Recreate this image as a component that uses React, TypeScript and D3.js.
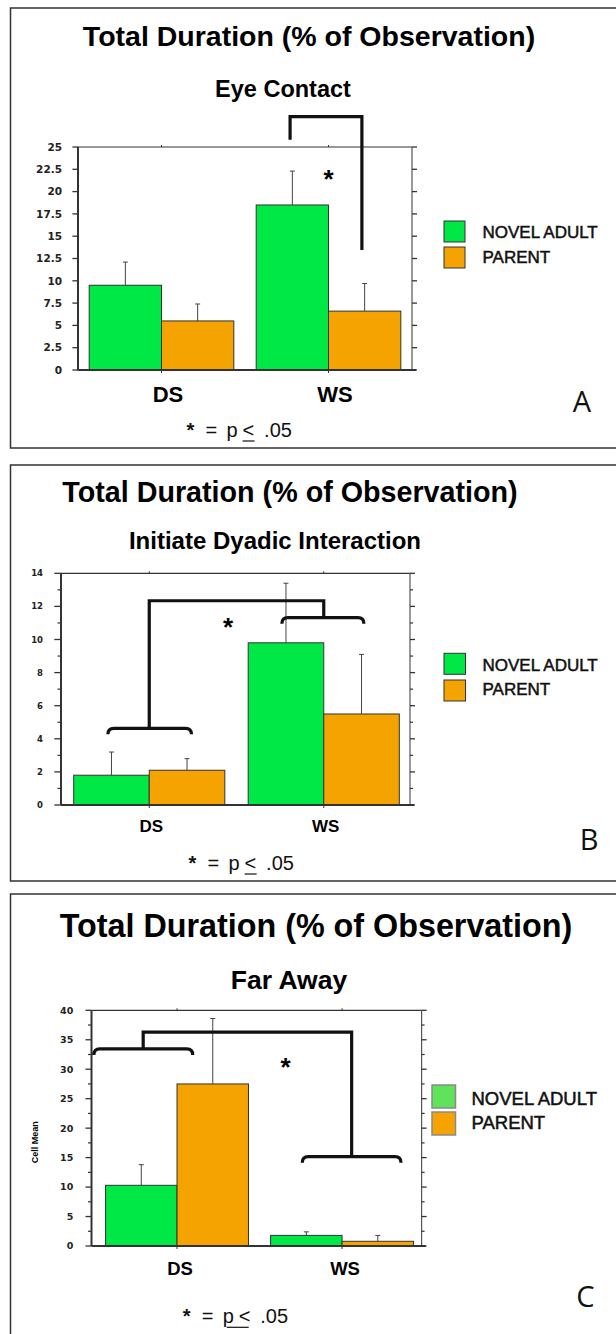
import React from "react";
import * as d3 from "d3";

const categories = ["DS", "WS"];
const seriesNames = ["NOVEL ADULT", "PARENT"];

// A: Eye Contact
const eyeNovel = [9.5, 18.5];
const eyeNovelErr = [2.6, 3.8];
const eyeParent = [5.5, 6.6];
const eyeParentErr = [1.9, 3.1];
const eyeTicks = [0, 2.5, 5, 7.5, 10, 12.5, 15, 17.5, 20, 22.5, 25];
const eyeMinor: number[] = [];

// B: Initiate Dyadic Interaction
const dyadNovel = [1.8, 9.8];
const dyadNovelErr = [1.4, 3.6];
const dyadParent = [2.1, 5.5];
const dyadParentErr = [0.7, 3.6];
const dyadTicks = [0, 2, 4, 6, 8, 10, 12, 14];
const dyadMinor = [1, 3, 5, 7, 9, 11, 13];

// C: Far Away
const farNovel = [10.3, 1.8];
const farNovelErr = [3.5, 0.6];
const farParent = [27.5, 0.8];
const farParentErr = [11.1, 1.0];
const farTicks = [0, 5, 10, 15, 20, 25, 30, 35, 40];
const farMinor = [2.5, 7.5, 12.5, 17.5, 22.5, 27.5, 32.5, 37.5];

// significance brackets: x in units where 0 = DS centre, 1 = WS centre; y in data units
const eyeBracket = { path: [[0.77, 25.8], [0.77, 28.4], [1.2, 28.4], [1.2, 13.45]], braces: [], star: [1.0, 22.1] };
const dyadBracket = {
	path: [[0, 4.63], [0, 12.34], [1, 12.34], [1, 11.32]],
	braces: [{ from: -0.237, to: 0.242, at: 4.63 }, { from: 0.76, to: 1.23, at: 11.32 }],
	star: [0.452, 11.1],
};
const farBracket = {
	path: [[-0.205, 33.45], [-0.205, 36.28], [1.058, 36.28], [1.058, 15.16]],
	braces: [{ from: -0.504, to: 0.095, at: 33.45 }, { from: 0.759, to: 1.357, at: 15.16 }],
	star: [0.658, 31.3],
};

const GREEN = "#00e845";
const ORANGE = "#f5a300";
const SANS = "'Liberation Sans', Arial, Helvetica, sans-serif";
const TICKFONT = "'DejaVu Sans', Verdana, sans-serif";

const panels = [
	{
		title: "Eye Contact", letter: "A",
		novel: eyeNovel, novelErr: eyeNovelErr, parent: eyeParent, parentErr: eyeParentErr,
		ticks: eyeTicks, minor: eyeMinor, yMax: 25, bracket: eyeBracket,
		frame: { y: 8, h: 440 },
		plot: { left: 78, right: 412, top: 147, bottom: 370 }, barRange: [78, 412],
		titleY: 46, titleSize: 28.5, titleX: 309,
		subY: 97, subSize: 23.5, subX: 283,
		tickSize: 10.5, labelRight: 62, tickLen: 5.6,
		catY: 402, catSize: 22, catDx: 6.5,
		legend: { x: 444, w: 21, h: 21, ys: [221, 247], textX: 482.5, base: [238, 263], size: 17, light: false },
		letterX: 582, letterY: 412,
		foot: { x: 186.6, y: 437, ulFrom: 56, ulTo: 68 },
		starSize: 26,
	},
	{
		title: "Initiate Dyadic Interaction", letter: "B",
		novel: dyadNovel, novelErr: dyadNovelErr, parent: dyadParent, parentErr: dyadParentErr,
		ticks: dyadTicks, minor: dyadMinor, yMax: 14, bracket: dyadBracket,
		frame: { y: 465, h: 416 },
		plot: { left: 61, right: 410, top: 573.3, bottom: 805 }, barRange: [62, 411],
		titleY: 501.7, titleSize: 28.7, titleX: 290,
		subY: 549, subSize: 24, subX: 275,
		tickSize: 8.5, labelRight: 43, tickLen: 6.7,
		catY: 832.3, catSize: 17, catDx: 2,
		legend: { x: 444, w: 21.5, h: 21, ys: [653.3, 680], textX: 482.5, base: [671, 695], size: 17, light: false },
		letterX: 589, letterY: 850,
		foot: { x: 188.6, y: 870, ulFrom: 56, ulTo: 68 },
		starSize: 26,
	},
	{
		title: "Far Away", letter: "C",
		novel: farNovel, novelErr: farNovelErr, parent: farParent, parentErr: farParentErr,
		ticks: farTicks, minor: farMinor, yMax: 40, bracket: farBracket,
		frame: { y: 894, h: 470 },
		plot: { left: 91.5, right: 421.6, top: 1010.3, bottom: 1246 }, barRange: [94.5, 424.6],
		titleY: 937.3, titleSize: 32.3, titleX: 316,
		subY: 989.3, subSize: 26.5, subX: 289,
		tickSize: 9.5, labelRight: 73.3, tickLen: 6,
		catY: 1275, catSize: 18.5, catDx: 3,
		legend: { x: 432, w: 23.5, h: 23, ys: [1085, 1112], textX: 471.5, base: [1105, 1129.3], size: 18.5, light: true },
		letterX: 585.5, letterY: 1306.7,
		foot: { x: 182.7, y: 1323.3, ulFrom: 44, ulTo: 66 },
		starSize: 26,
		yLabel: "Cell Mean",
	},
];

function Panel({ p }: { p: any }) {
	const { plot } = p;
	const y = d3.scaleLinear().domain([0, p.yMax]).range([plot.bottom, plot.top]);
	const x0 = d3.scaleBand().domain(categories).range(p.barRange).paddingInner(0.134).paddingOuter(0.067);
	const x1 = d3.scaleBand().domain(seriesNames).range([0, x0.bandwidth()]);
	const centre = (c: string) => (x0(c) as number) + x0.bandwidth() / 2;
	const xa = d3.scaleLinear().domain([0, 1]).range([centre("DS"), centre("WS")]);

	const series = [
		{ name: seriesNames[0], values: p.novel, errs: p.novelErr, color: GREEN },
		{ name: seriesNames[1], values: p.parent, errs: p.parentErr, color: ORANGE },
	];

	const line = d3.line<number[]>().x(d => xa(d[0])).y(d => y(d[1]));
	const drop = 6;
	const brace = (b: any) => {
		const a = xa(b.from), c = xa(b.to), Y = y(b.at);
		return `M${a},${Y + drop} Q${a},${Y} ${a + drop},${Y} L${c - drop},${Y} Q${c},${Y} ${c},${Y + drop}`;
	};

	const lg = p.legend;

	return (
		<g>
			<rect x={10.5} y={p.frame.y} width={640} height={p.frame.h} fill="none" stroke="#333" strokeWidth={1.5} />
			<text x={p.titleX} y={p.titleY} textAnchor="middle" fontFamily={SANS} fontWeight="bold" fontSize={p.titleSize}>
				Total Duration (% of Observation)
			</text>
			<text x={p.subX} y={p.subY} textAnchor="middle" fontFamily={SANS} fontWeight="bold" fontSize={p.subSize}>
				{p.title}
			</text>

			{/* bars */}
			{categories.map((c, i) => (
				<g key={c} transform={`translate(${x0(c)},0)`}>
					{series.map(s => {
						const bx = x1(s.name) as number;
						const bw = x1.bandwidth();
						const cx = bx + bw / 2;
						const top = y(s.values[i]);
						const et = y(s.values[i] + s.errs[i]);
						return (
							<g key={s.name}>
								<line x1={cx} x2={cx} y1={top} y2={et} stroke="#444" strokeWidth={1} />
								<line x1={cx - 2.5} x2={cx + 2.5} y1={et} y2={et} stroke="#444" strokeWidth={1} />
								<rect x={bx} y={top} width={bw} height={plot.bottom - top} fill={s.color} stroke="#333" strokeWidth={1} />
							</g>
						);
					})}
				</g>
			))}

			{/* frame axes */}
			<line x1={plot.left} x2={plot.right} y1={plot.top} y2={plot.top} stroke="#333" strokeWidth={1.2} />
			<line x1={plot.right} x2={plot.right} y1={plot.top} y2={plot.bottom} stroke="#555" strokeWidth={1.2} />
			<line x1={plot.left} x2={plot.left} y1={plot.top} y2={plot.bottom} stroke="#333" strokeWidth={2} />
			<line x1={plot.left} x2={plot.right + 4} y1={plot.bottom} y2={plot.bottom} stroke="#333" strokeWidth={2} />
			{p.ticks.map((t: number) => (
				<g key={t}>
					<line x1={plot.left - p.tickLen} x2={plot.left} y1={y(t)} y2={y(t)} stroke="#333" strokeWidth={1.3} />
					<line x1={plot.right} x2={plot.right + 5} y1={y(t)} y2={y(t)} stroke="#333" strokeWidth={1.3} />
					<text x={p.labelRight} y={y(t)} dy="0.36em" textAnchor="end" fontFamily={TICKFONT} fontWeight="bold" fontSize={p.tickSize} fill="#222">
						{t}
					</text>
				</g>
			))}
			{p.minor.map((t: number) => (
				<g key={"m" + t}>
					<line x1={plot.left - 3.5} x2={plot.left} y1={y(t)} y2={y(t)} stroke="#333" strokeWidth={1.2} />
					<line x1={plot.right} x2={plot.right + 3} y1={y(t)} y2={y(t)} stroke="#333" strokeWidth={1.2} />
				</g>
			))}
			{categories.map(c => (
				<g key={"ct" + c}>
					<line x1={centre(c)} x2={centre(c)} y1={plot.top - 2} y2={plot.top} stroke="#333" strokeWidth={1} />
					<line x1={centre(c)} x2={centre(c)} y1={plot.bottom} y2={plot.bottom + 3} stroke="#333" strokeWidth={1} />
					<text x={centre(c) + p.catDx} y={p.catY} textAnchor="middle" fontFamily={SANS} fontWeight="bold" fontSize={p.catSize}>
						{c}
					</text>
				</g>
			))}
			{p.yLabel && (
				<text transform={`translate(38,${(plot.top + plot.bottom) / 2 + 14}) rotate(-90)`} textAnchor="middle"
					fontFamily={SANS} fontWeight="bold" fontSize={9}>
					{p.yLabel}
				</text>
			)}

			{/* significance */}
			<path d={line(p.bracket.path) as string} fill="none" stroke="#111" strokeWidth={3.2} strokeLinejoin="miter" />
			{p.bracket.braces.map((b: any, i: number) => (
				<path key={i} d={brace(b)} fill="none" stroke="#111" strokeWidth={3.2} />
			))}
			<text x={xa(p.bracket.star[0])} y={y(p.bracket.star[1]) + p.starSize * 0.57} textAnchor="middle"
				fontFamily={SANS} fontWeight="bold" fontSize={p.starSize}>*</text>

			{/* legend */}
			{series.map((s, i) => (
				<g key={"lg" + s.name}>
					<rect x={lg.x} y={lg.ys[i]} width={lg.w} height={lg.h}
						fill={lg.light && i === 0 ? "#5ee35a" : s.color}
						stroke={lg.light ? "#8a8a8a" : "#333"} strokeWidth={lg.light ? 1.5 : 1} />
					<text x={lg.textX} y={lg.base[i]} fontFamily={SANS} fontSize={lg.size} fill="#111"
						stroke="#111" strokeWidth={0.5}>{s.name}</text>
				</g>
			))}

			<text x={p.letterX} y={p.letterY} textAnchor="middle" fontFamily="'Open Sans', 'Noto Sans', sans-serif" fontSize={29} fill="#111">
				{p.letter}
			</text>

			{/* footnote */}
			<g transform={`translate(${p.foot.x},${p.foot.y})`} fontFamily={SANS} fontSize={20} fill="#111">
				<text x={0} y={0} fontWeight="bold">*</text>
				<text x={19} y={0}>=</text>
				<text x={40} y={0}>p</text>
				<text x={56} y={0}>&lt;</text>
				<line x1={p.foot.ulFrom} x2={p.foot.ulTo} y1={4} y2={4} stroke="#111" strokeWidth={1.2} />
				<text x={77.5} y={0}>.05</text>
			</g>
		</g>
	);
}

export default function App() {
	return (
		<svg width={616} height={1334} style={{ position: "absolute", left: 0, top: 0, background: "#fff" }}>
			<rect width={616} height={1334} fill="#fff" />
			{panels.map(p => <Panel key={p.letter} p={p} />)}
		</svg>
	);
}
